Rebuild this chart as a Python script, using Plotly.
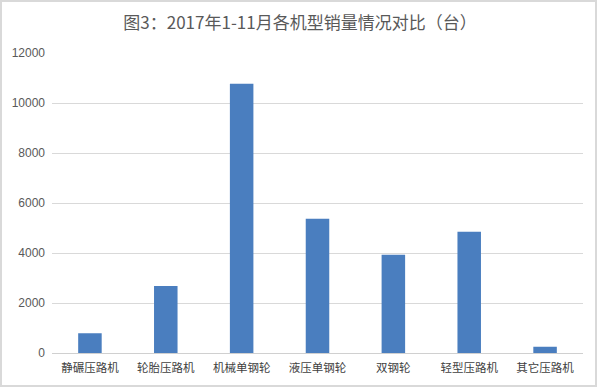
import plotly.graph_objects as go

categories = ["静碾压路机", "轮胎压路机", "机械单钢轮", "液压单钢轮", "双钢轮", "轻型压路机", "其它压路机"]
values = [790, 2680, 10770, 5370, 3930, 4850, 250]
y_ticks = [0, 2000, 4000, 6000, 8000, 10000, 12000]
y_tick_text = ["0", "2000", "4000", "6000", "8000", "10000", "12000"]

font_family = "Noto Sans CJK SC, Liberation Sans, sans-serif"

L, R, T, B = 52, 17, 53, 35
PW, PH = 600 - L - R, 388 - T - B

fig = go.Figure(go.Bar(
    x=categories, y=values,
    marker=dict(color="#4a7ebf", line=dict(width=0)),
    width=0.31,
))

fig.update_layout(
    width=600, height=388,
    paper_bgcolor="white", plot_bgcolor="white",
    margin=dict(l=L, r=R, t=T, b=B),
    title=dict(text="图3：2017年1-11月各机型销量情况对比（台）",
               x=0.5, xanchor="center", y=0.94, yanchor="middle",
               font=dict(family=font_family, size=17, color="#595959")),
    showlegend=False,
    font=dict(family=font_family, color="#595959"),
    shapes=[dict(type="rect", xref="paper", yref="paper",
                 x0=-(L - 1) / PW, x1=1 + (R - 4) / PW,
                 y0=-(B - 2) / PH, y1=1 + (T - 1) / PH,
                 line=dict(color="#d9d9d9", width=2), layer="below")],
)
fig.update_xaxes(
    showgrid=False, showline=False, ticks="", automargin=False,
    ticklabelstandoff=6,
    tickfont=dict(family=font_family, size=11.5, color="#404040"),
)
fig.update_yaxes(
    range=[0, 12000], tickvals=y_ticks, ticktext=y_tick_text,
    showgrid=True, gridcolor="#d9d9d9", gridwidth=1,
    zeroline=True, zerolinecolor="#d0d0d0", zerolinewidth=1,
    tickfont=dict(family="Liberation Sans, sans-serif", size=12, color="#595959"),
    ticks="", ticklabelstandoff=6, automargin=False,
)

fig.write_html("out.html", config={"displayModeBar": False},
               post_script="document.body.style.margin='0';")
